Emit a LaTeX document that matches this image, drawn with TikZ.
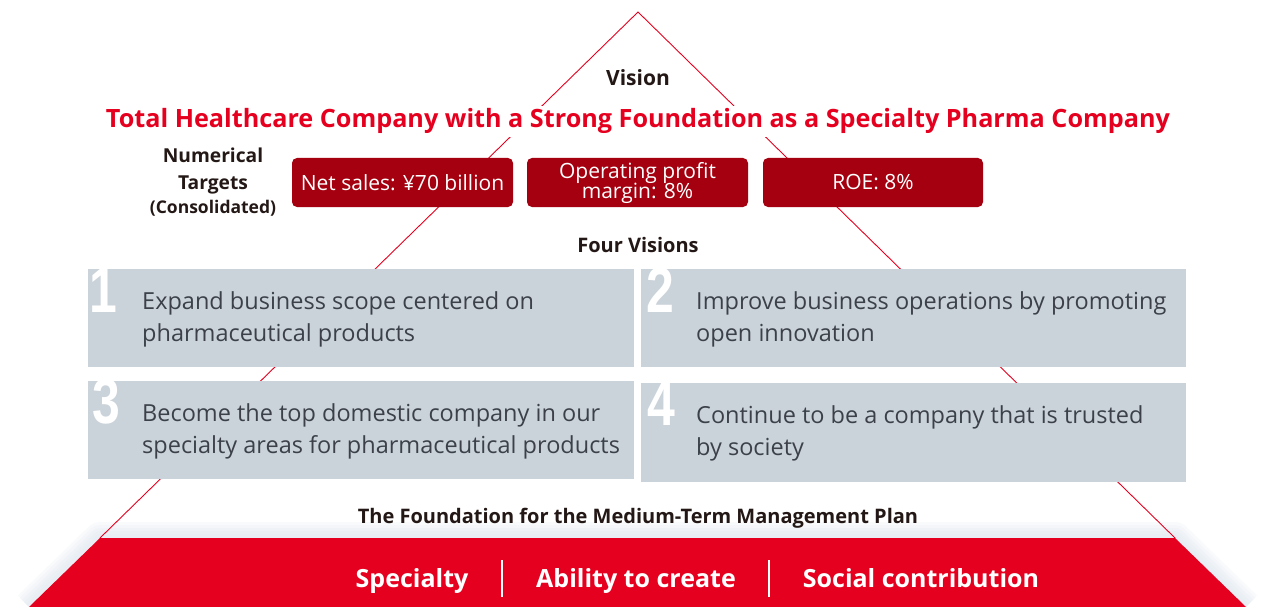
\documentclass[tikz,border=0pt]{standalone}
\usepackage{fontspec}
\setmainfont{Open Sans}
\newfontfamily\digitfont{Liberation Sans}
\definecolor{bandred}{HTML}{E6001F}
\definecolor{boxred}{HTML}{A4000F}
\definecolor{boxgray}{HTML}{CBD3DA}
\definecolor{bodytext}{HTML}{3C4149}
\definecolor{headtext}{HTML}{231815}
\definecolor{glow}{HTML}{D6E2EC}
\tikzset{
  outline/.style={draw=bandred, line width=0.9pt},
  heading/.style={font=\bfseries\fontsize{20}{22}\selectfont, text=headtext, inner sep=0pt},
  target/.style={fill=boxred, rounded corners=5pt, text=white, align=center,
                 font=\fontsize{21}{21}\selectfont, inner sep=0pt},
  visionbox/.style={fill=boxgray},
  visiontext/.style={font=\fontsize{23.5}{32}\selectfont, text=bodytext, align=left,
                     anchor=base west, inner sep=0pt},
  bignum/.style={font=\digitfont\bfseries\fontsize{64}{64}\selectfont, text=white,
                 anchor=north, inner sep=0pt},
  pillar/.style={font=\bfseries\fontsize{25}{25}\selectfont, text=white,
                 anchor=base, inner sep=0pt},
}
\begin{document}
\begin{tikzpicture}[x=1pt, y=-1pt]
\useasboundingbox (0,0) rectangle (1267,607);
\fill[white] (0,0) rectangle (1267,607);

% key points of the pyramid
\coordinate (apex) at (638,12);
\coordinate (bl) at (100,538);
\coordinate (br) at (1175,538);
\coordinate (fl) at (29,607);
\coordinate (fr) at (1246,607);

% soft halo around the foundation band
\foreach \w in {32,26,20,14,8}
  \draw[glow, line width=\w pt, line join=round, opacity=0.14]
    (fl) -- (bl) -- (br) -- (fr);

% pyramid outline
\draw[outline] (bl) -- (apex) -- (br);

% foundation band
\fill[bandred] (fl) -- (bl) -- (br) -- (fr) -- cycle;

% vision
\node[heading, anchor=base, font=\bfseries\fontsize{21}{22}\selectfont] (vision) at (638,86) {Vision};
\node[fill=white, inner xsep=4pt, inner ysep=3pt, anchor=base, text=bandred,
      font=\bfseries\fontsize{25.2}{25}\selectfont] (title) at (638,128)
  {Total Healthcare Company with a Strong Foundation as a Specialty Pharma Company};

% numerical targets
\node[heading, align=center, anchor=north, font=\bfseries\fontsize{19.2}{21}\selectfont] (numt) at (213,148)
  {Numerical\\[6pt]Targets\\[3pt]{\fontsize{17.5}{19}\selectfont(Consolidated)}};
\path[target] (292,158) rectangle (513,207);
\node[target, fill=none] (sales) at (402.5,182.5) {Net sales: ¥70 billion};
\path[target] (527,158) rectangle (748,207);
\node[target, fill=none, font=\fontsize{21}{20.5}\selectfont] (margin) at (637.5,183)
  {Operating profit\\margin: 8\%};
\path[target] (763,158) rectangle (983,207);
\node[target, fill=none] (roe) at (873,182.5) {ROE: 8\%};

% four visions
\node[heading, anchor=base] (four) at (638,252) {Four Visions};

\fill[visionbox] (88,269) rectangle (634,367);
\fill[visionbox] (641,269) rectangle (1186,367);
\fill[visionbox] (88,381) rectangle (634,479);
\fill[visionbox] (641,383) rectangle (1186,482);

\node[bignum] (n1) at (103,268) {\scalebox{0.78}[1]{1}};
\node[bignum] (n2) at (660,268) {\scalebox{0.78}[1]{2}};
\node[bignum] (n3) at (106,379) {\scalebox{0.78}[1]{3}};
\node[bignum] (n4) at (661,381) {\scalebox{0.78}[1]{4}};

% the base anchor of a two-line node sits on its last line
\node[visiontext] (v1) at (142,341)
  {Expand business scope centered on\\pharmaceutical products};
\node[visiontext] (v2) at (696,341)
  {Improve business operations by promoting\\open innovation};
\node[visiontext] (v3) at (142,453)
  {Become the top domestic company in our\\specialty areas for pharmaceutical products};
\node[visiontext] (v4) at (696,455)
  {Continue to be a company that is trusted\\by society};

% foundation
\node[heading, anchor=base] (found) at (638,523)
  {The Foundation for the Medium-Term Management Plan};
\node[pillar] (p1) at (412,587) {Specialty};
\node[pillar] (p2) at (636,587) {Ability to create};
\node[pillar] (p3) at (921,587) {Social contribution};
\coordinate (s1t) at (502,560); \coordinate (s1b) at (502,597);
\coordinate (s2t) at (769,560); \coordinate (s2b) at (769,597);
\draw[white, line width=2pt] (s1t) -- (s1b);
\draw[white, line width=2pt] (s2t) -- (s2b);
\end{tikzpicture}
\end{document}
